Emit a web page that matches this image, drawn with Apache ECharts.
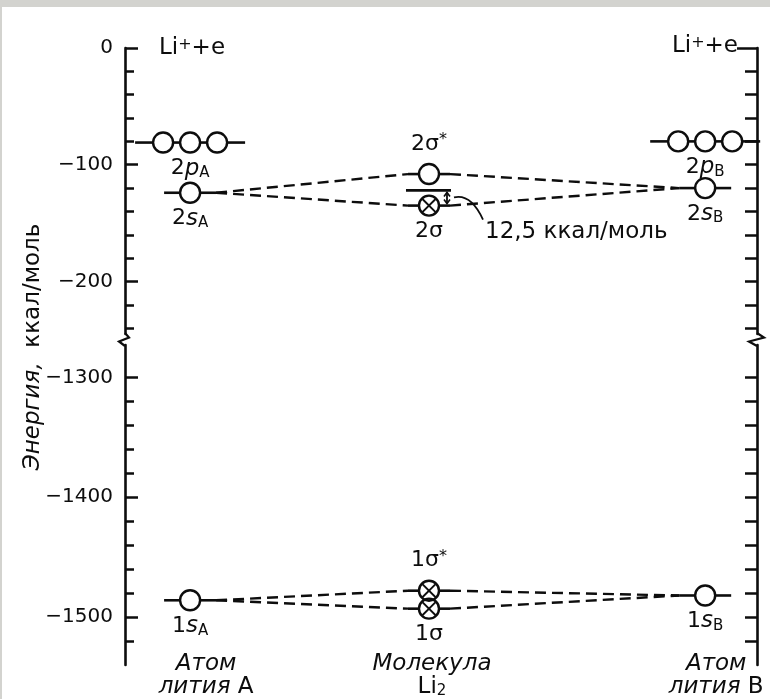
<!DOCTYPE html>
<html>
<head>
<meta charset="utf-8">
<title>Li2</title>
<script src="https://cdn.jsdelivr.net/npm/echarts@6/dist/echarts.min.js"></script>
<style>
html, body { margin: 0; padding: 0; background: #fff; }
#main { width: 770px; height: 699px; }
</style>
</head>
<body>
<div id="main"></div>
<script>
// уровни энергии (ккал/моль)
var levelNames   = ['2pA', '2sA', '2σ*', '2σ', '2pB', '2sB', '1sA', '1σ*', '1σ', '1sB'];
var levelColumn  = ['A', 'A', 'M', 'M', 'B', 'B', 'A', 'M', 'M', 'B'];
var levelEnergy  = [-81, -124, -108, -135, -80, -120, -1486, -1478, -1493, -1482];
var levelOrbitals = [3, 1, 1, 1, 3, 1, 1, 1, 1, 1];
var levelCrossed = [0, 0, 0, 1, 0, 0, 0, 1, 1, 0];
var levelLabelSide = ['below', 'below', 'above', 'below', 'below', 'below', 'below', 'above', 'below', 'below'];
var levelLabels = [
  '{n|2}{i|p}{s|A}', '{n|2}{i|s}{s|A}', '{n|2σ}{u|*}', '{n|2σ}',
  '{n|2}{i|p}{s|B}', '{n|2}{i|s}{s|B}', '{n|1}{i|s}{s|A}', '{n|1σ}{u|*}', '{n|1σ}', '{n|1}{i|s}{s|B}'
];
// пунктирные связи: атомный уровень -> молекулярный
var connections = [
  ['2sA', '2σ*'], ['2sA', '2σ'], ['2σ*', '2sB'], ['2σ', '2sB'],
  ['1sA', '1σ*'], ['1sA', '1σ'], ['1σ*', '1sB'], ['1σ', '1sB']
];
var ref2sLevel = -122;          // уровень 2s у молекулы
var bindingLabel = '12,5 ккал/моль';

var upperRange = [-245, 0];
var lowerRange = [-1540, -1273];
var upperMajor = [0, -100, -200];
var upperMinor = [-20, -40, -60, -80, -120, -140, -160, -180, -220, -240];
var lowerMajor = [-1300, -1400, -1500];
var lowerMinor = [-1320, -1340, -1360, -1380, -1420, -1440, -1460, -1480, -1520];
var rightUpperTicks = [-20, -40, -60, -80, -100, -120, -140, -160, -180, -200, -220, -240];
var rightLowerTicks = [-1300, -1320, -1340, -1360, -1380, -1400, -1420, -1440, -1460, -1480, -1500, -1520];

var columns = ['A', 'M', 'B'];
var columnNames = ['{i|Атом}\n{i|лития} {r|A}', '{i|Молекула}\n{r|Li}{s|2}', '{i|Атом}\n{i|лития} {r|B}'];
var axisTitle = '{ti|Энергия,}  {tr|ккал/моль}';
var limitLabel = '{r|Li}{u|+}{r|+e}';

// ---- оформление ----
var FONT = '"DejaVu Sans", sans-serif';
var INK = '#0d0d0d';
var colPos = { A: 10.3, M: 48.1, B: 91.8 };
var colNameNudge = { A: 16, M: 3, B: 11 };

var rich = {
  n: { fontSize: 22, fontFamily: FONT, color: INK, lineHeight: 24 },
  r: { fontSize: 23, fontFamily: FONT, color: INK, lineHeight: 23 },
  i: { fontSize: 23, fontFamily: FONT, fontStyle: 'italic', color: INK, lineHeight: 23 },
  ti: { fontSize: 23, fontFamily: FONT, fontStyle: 'italic', color: INK, lineHeight: 26 },
  tr: { fontSize: 23, fontFamily: FONT, color: INK, lineHeight: 26 },
  s: { fontSize: 15, fontFamily: FONT, color: INK, lineHeight: 6, verticalAlign: 'bottom' },
  u: { fontSize: 16, fontFamily: FONT, color: INK, lineHeight: 8, verticalAlign: 'top' }
};
var zrRich = {};
Object.keys(rich).forEach(function (k) {
  var o = rich[k];
  zrRich[k] = { fontSize: o.fontSize, fontFamily: o.fontFamily, fontStyle: o.fontStyle, fill: o.color,
    lineHeight: o.lineHeight, verticalAlign: o.verticalAlign };
});

function idx(name) { return levelNames.indexOf(name); }
function halfWidth(i) {
  if (levelOrbitals[i] === 3) return 55;
  return levelColumn[i] === 'M' ? 21 : 26;
}
function inUpper(e) { return e > -1000; }

function levelData(upper) {
  var out = [];
  for (var i = 0; i < levelNames.length; i++) {
    if (inUpper(levelEnergy[i]) === upper) out.push([colPos[levelColumn[i]], levelEnergy[i], i]);
  }
  return out;
}
function connData(upper) {
  var out = [];
  connections.forEach(function (c) {
    var a = idx(c[0]), b = idx(c[1]);
    if (inUpper(levelEnergy[a]) === upper) {
      out.push([colPos[levelColumn[a]], levelEnergy[a], colPos[levelColumn[b]], levelEnergy[b], a, b]);
    }
  });
  return out;
}

function seg(x1, y1, x2, y2, w, dash) {
  return { type: 'line', shape: { x1: x1, y1: y1, x2: x2, y2: y2 },
    style: { stroke: INK, lineWidth: w, lineDash: dash || null } };
}

function renderLevel(params, api) {
  var i = api.value(2);
  var p = api.coord([api.value(0), api.value(1)]);
  var hw = halfWidth(i), r = 10;
  var offs = levelOrbitals[i] === 3 ? [-27, 0, 27] : [0];
  var ch = [];
  var left = p[0] - hw;
  offs.forEach(function (d) {
    var cx = p[0] + d;
    ch.push(seg(left, p[1], cx - r, p[1], 2.6));
    left = cx + r;
    ch.push({ type: 'circle', shape: { cx: cx, cy: p[1], r: r },
      style: { fill: 'none', stroke: INK, lineWidth: 2.4 } });
    if (levelCrossed[i]) {
      var k = 6.6;
      ch.push(seg(cx - k, p[1] - k, cx + k, p[1] + k, 1.9));
      ch.push(seg(cx - k, p[1] + k, cx + k, p[1] - k, 1.9));
    }
  });
  ch.push(seg(left, p[1], p[0] + hw, p[1], 2.6));
  var below = levelLabelSide[i] === 'below';
  ch.push({ type: 'text', style: { x: p[0], y: p[1] + (below ? 26 : -30), text: levelLabels[i],
    rich: zrRich, align: 'center', verticalAlign: 'middle', fill: INK, fontSize: 22, fontFamily: FONT } });
  return { type: 'group', children: ch };
}

function renderConn(params, api) {
  var a = api.value(4), b = api.value(5);
  var p0 = api.coord([api.value(0), api.value(1)]);
  var p1 = api.coord([api.value(2), api.value(3)]);
  return seg(p0[0] + halfWidth(a), p0[1], p1[0] - halfWidth(b), p1[1], 2.4, [11, 6]);
}

function renderBinding(params, api) {
  var pr = api.coord([api.value(0), api.value(1)]);
  var ps = api.coord([api.value(0), api.value(2)]);
  var ax = pr[0] + 18;
  return { type: 'group', children: [
    seg(pr[0] - 23, pr[1], pr[0] + 22, pr[1], 2.8),
    seg(ax, pr[1] + 2, ax, ps[1] - 2, 1.8),
    { type: 'polyline', shape: { points: [[ax - 3, pr[1] + 6], [ax, pr[1] + 2], [ax + 3, pr[1] + 6]] },
      style: { stroke: INK, lineWidth: 1.6, fill: null } },
    { type: 'polyline', shape: { points: [[ax - 3, ps[1] - 6], [ax, ps[1] - 2], [ax + 3, ps[1] - 6]] },
      style: { stroke: INK, lineWidth: 1.6, fill: null } },
    { type: 'bezierCurve', shape: { x1: pr[0] + 25, y1: pr[1] + 7, cpx1: pr[0] + 42, cpy1: pr[1] + 3,
      x2: pr[0] + 54, y2: ps[1] + 14 }, style: { stroke: INK, lineWidth: 1.8, fill: null } },
    { type: 'text', style: { x: pr[0] + 56, y: ps[1] + 26, text: bindingLabel, align: 'left',
      verticalAlign: 'middle', fill: INK, fontSize: 23, fontFamily: FONT } }
  ] };
}

function fmtTick(v) { return v === 0 ? '0' : '\u2212' + Math.abs(v); }

function yAxisCfg(grid, range, pos, ticks, len, labels, line) {
  return {
    type: 'value', gridIndex: grid, min: range[0], max: range[1], position: pos,
    axisLine: { show: line, lineStyle: { color: INK, width: 2.6 } },
    axisTick: { show: true, inside: true, length: len, customValues: ticks, lineStyle: { color: INK, width: 2.5 } },
    axisLabel: labels ? { show: true, customValues: labels, formatter: fmtTick, margin: 12,
      color: INK, fontSize: 20, fontFamily: FONT } : { show: false },
    splitLine: { show: false }
  };
}

var chart = echarts.init(document.getElementById('main'));

var option = {
  animation: false,
  backgroundColor: '#fff',
  grid: [
    { left: 125, right: 13, top: 48, height: 286 },
    { left: 125, right: 13, top: 345, height: 320 }
  ],
  xAxis: [
    { type: 'value', gridIndex: 0, min: 0, max: 100, show: false },
    { type: 'value', gridIndex: 1, min: 0, max: 100, show: false }
  ],
  yAxis: [
    yAxisCfg(0, upperRange, 'left', upperMajor, 13, upperMajor, true),
    yAxisCfg(0, upperRange, 'left', upperMinor, 9, null, false),
    yAxisCfg(0, upperRange, 'right', [0], 20, null, true),
    yAxisCfg(0, upperRange, 'right', rightUpperTicks, 12, null, false),
    yAxisCfg(1, lowerRange, 'left', lowerMajor, 13, lowerMajor, true),
    yAxisCfg(1, lowerRange, 'left', lowerMinor, 9, null, false),
    yAxisCfg(1, lowerRange, 'right', rightLowerTicks, 12, null, true)
  ],
  series: [
    { type: 'custom', xAxisIndex: 0, yAxisIndex: 0, data: connData(true), renderItem: renderConn, z: 2 },
    { type: 'custom', xAxisIndex: 1, yAxisIndex: 4, data: connData(false), renderItem: renderConn, z: 2 },
    { type: 'custom', xAxisIndex: 0, yAxisIndex: 0, data: levelData(true), renderItem: renderLevel, z: 3 },
    { type: 'custom', xAxisIndex: 1, yAxisIndex: 4, data: levelData(false), renderItem: renderLevel, z: 3 },
    { type: 'custom', xAxisIndex: 0, yAxisIndex: 0,
      data: [[colPos.M, ref2sLevel, levelEnergy[idx('2σ')]]], renderItem: renderBinding, z: 3 }
  ]
};
chart.setOption(option);

// подписи, разрывы осей и рамка
var g = [];
g.push({ type: 'rect', shape: { x: 0, y: 0, width: 770, height: 7 }, style: { fill: '#d3d3cf' }, z: 10 });
g.push({ type: 'rect', shape: { x: 0, y: 0, width: 2, height: 699 }, style: { fill: '#d3d3cf' }, z: 10 });

var yZero = chart.convertToPixel({ yAxisIndex: 0 }, 0);
var xL = chart.convertToPixel({ xAxisIndex: 0 }, 0);
var xR = chart.convertToPixel({ xAxisIndex: 0 }, 100);
g.push({ type: 'text', style: { x: xL + 34, y: yZero, text: limitLabel, rich: zrRich, align: 'left',
  verticalAlign: 'middle', fill: INK, fontSize: 23, fontFamily: FONT } });
g.push({ type: 'text', style: { x: xR - 19, y: yZero - 2, text: limitLabel, rich: zrRich, align: 'right',
  verticalAlign: 'middle', fill: INK, fontSize: 23, fontFamily: FONT } });

var yBreakTop = chart.convertToPixel({ yAxisIndex: 0 }, upperRange[0]);
var yBreakBot = chart.convertToPixel({ yAxisIndex: 4 }, lowerRange[1]);
var mid = (yBreakTop + yBreakBot) / 2;
g.push({ type: 'polyline', shape: { points: [[xL, yBreakTop - 1], [xL + 4, mid - 2], [xL - 6, mid + 2], [xL, yBreakBot + 1]] },
  style: { stroke: INK, lineWidth: 2.2, fill: null } });
g.push({ type: 'polyline', shape: { points: [[xR, yBreakTop - 1], [xR + 7, mid - 2], [xR - 8, mid + 2], [xR, yBreakBot + 1]] },
  style: { stroke: INK, lineWidth: 2.2, fill: null } });

g.push({ type: 'text', x: 33, y: 347, rotation: Math.PI / 2,
  style: { x: 0, y: 0, text: axisTitle, rich: zrRich, align: 'center', verticalAlign: 'middle', fill: INK, fontSize: 23, fontFamily: FONT } });

var yBottom = chart.convertToPixel({ yAxisIndex: 4 }, lowerRange[0]);
columns.forEach(function (c, k) {
  var px = chart.convertToPixel({ xAxisIndex: 1 }, colPos[c]) + colNameNudge[c];
  g.push({ type: 'text', style: { x: px, y: yBottom - 12, text: columnNames[k], rich: zrRich, align: 'center',
    verticalAlign: 'top', fill: INK, fontSize: 23, fontFamily: FONT } });
});

chart.setOption({ graphic: g });
</script>
</body>
</html>
